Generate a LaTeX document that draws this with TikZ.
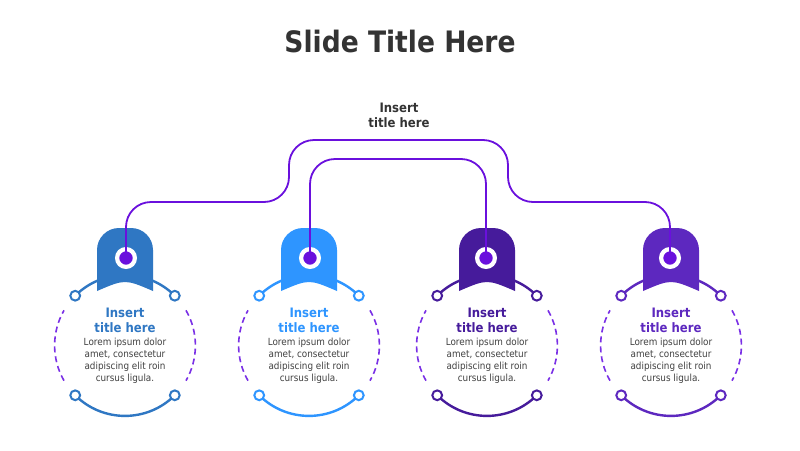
\documentclass[tikz,border=0pt]{standalone}
\usepackage{fontspec}
\setmainfont{DejaVu Sans}[FakeStretch=0.9]
\definecolor{unitA}{HTML}{2F77C3}
\definecolor{unitB}{HTML}{2E95FF}
\definecolor{unitC}{HTML}{461B9B}
\definecolor{unitD}{HTML}{5D28BF}
\definecolor{linkcol}{HTML}{6A10DD}
\definecolor{dashcol}{HTML}{7A30E6}
\definecolor{textgrey}{HTML}{333333}
\definecolor{bodygrey}{HTML}{404040}

\begin{document}
\begin{tikzpicture}[x=1pt, y=-1pt]
\tikzset{pinnoeud/.style={circle, fill=linkcol, draw=white, line width=4.2pt, minimum size=17.8pt, inner sep=0pt},
  lien/.style={draw=linkcol, line width=1.8pt, rounded corners=25pt},
  titre/.style={font=\bfseries\fontsize{13}{15}\selectfont, align=center},
  corps/.style={text=bodygrey, font=\fontsize{9.8}{12}\selectfont, align=center}}
\useasboundingbox (0,0) rectangle (800,450);
\fill[white] (0,0) rectangle (800,450);
% rings and tags
\foreach \x/\c in {125/unitA, 309/unitB, 487/unitC, 671/unitD} {
  \draw[\c, line width=2.4pt] (\x,345.5) ++(-45:70.4) arc[start angle=-45, end angle=-135, radius=70.4];
  \draw[\c, line width=2.4pt] (\x,345.5) ++(45:70.4) arc[start angle=45, end angle=135, radius=70.4];
  \draw[dashcol, line width=1.6pt, dash pattern=on 6pt off 4pt] (\x,345.5) ++(150:70.4) arc[start angle=150, end angle=210, radius=70.4];
  \draw[dashcol, line width=1.6pt, dash pattern=on 6pt off 4pt] (\x,345.5) ++(-30:70.4) arc[start angle=-30, end angle=30, radius=70.4];
  \foreach \a in {45, 135, -45, -135}
    \draw[\c, fill=white, line width=2pt] (\x,345.5) ++(\a:70.4) circle[radius=4.9];
  \fill[\c] (\x-28,291) -- (\x-28,250) arc[start angle=180, end angle=270, radius=22] -- (\x+6,228)
    arc[start angle=-90, end angle=0, radius=22] -- (\x+28,291) .. controls (\x,279) .. (\x-28,291) -- cycle;
}
\node[pinnoeud] (P1) at (126,258) {};
\node[pinnoeud] (P2) at (310,258) {};
\node[pinnoeud] (P3) at (486,258) {};
\node[pinnoeud] (P4) at (670,258) {};
\draw[lien] (P1.center) |- (289,202) |- (508,140) |- (670,202) -- (P4.center);
\draw[lien] (P2.center) |- (486,159) -- (P3.center);
% texts
\node[text=textgrey, font=\bfseries\fontsize{29.5}{32}\selectfont] (titre) at (400,42) {Slide Title Here};
\node[titre, text=textgrey] (haut) at (399,115) {Insert\\title here};
\node[titre, text=unitA] (T1) at (125,320.5) {Insert\\title here};
\node[titre, text=unitB] (T2) at (309,320.5) {Insert\\title here};
\node[titre, text=unitC] (T3) at (487,320.5) {Insert\\title here};
\node[titre, text=unitD] (T4) at (671,320.5) {Insert\\title here};
\node[corps] (B1) at (125,361) {Lorem ipsum dolor\\amet, consectetur\\adipiscing elit roin\\cursus ligula.};
\node[corps] (B2) at (309,361) {Lorem ipsum dolor\\amet, consectetur\\adipiscing elit roin\\cursus ligula.};
\node[corps] (B3) at (487,361) {Lorem ipsum dolor\\amet, consectetur\\adipiscing elit roin\\cursus ligula.};
\node[corps] (B4) at (671,361) {Lorem ipsum dolor\\amet, consectetur\\adipiscing elit roin\\cursus ligula.};
\end{tikzpicture}
\end{document}
